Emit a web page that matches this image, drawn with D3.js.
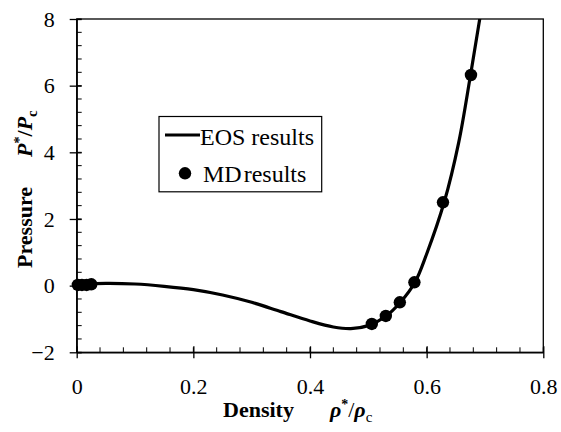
<!DOCTYPE html>
<html><head><meta charset="utf-8">
<script src="https://cdn.jsdelivr.net/npm/d3@7"></script>
<style>body{margin:0;background:#fff}svg{display:block}</style>
</head><body>
<svg id="c" width="561" height="432"></svg>
<script>
// EOS curve (density, pressure)
const eosDensity = [0, 0.02, 0.05, 0.1, 0.15, 0.2, 0.25, 0.3, 0.35, 0.4, 0.44, 0.47, 0.5, 0.53, 0.555, 0.58, 0.6, 0.63, 0.655, 0.675, 0.691, 0.70];
const eosPressure = [0, 0.05, 0.07, 0.05, -0.02, -0.12, -0.28, -0.5, -0.78, -1.06, -1.24, -1.29, -1.2, -0.92, -0.5, 0.1, 0.95, 2.5, 4.3, 6.3, 8.0, 9.1];
// MD points
const mdDensity = [0.002, 0.009, 0.017, 0.025, 0.506, 0.530, 0.554, 0.579, 0.628, 0.676];
const mdPressure = [0.02, 0.02, 0.02, 0.04, -1.15, -0.91, -0.50, 0.10, 2.50, 6.32];
const xTicks = [0, 0.2, 0.4, 0.6, 0.8];
const yTicks = [-2, 0, 2, 4, 6, 8];

const FONT = "Liberation Serif";
const svg = d3.select("#c").attr("font-family", FONT);
const L = 76.7, R = 543.3, T = 19, B = 352.3;
const x = d3.scaleLinear().domain([0, 0.8]).range([L, R]);
const y = d3.scaleLinear().domain([-2, 8]).range([B, T]);

// frame
svg.append("rect").attr("x", L).attr("y", T).attr("width", R - L).attr("height", B - T)
  .attr("fill", "none").attr("stroke", "#000").attr("stroke-width", 1.3);

// minor ticks
const xMinor = d3.range(0, 0.8001, 0.04);
const yMinor = d3.range(-2, 8.0001, 0.4);
svg.append("g").selectAll("line").data(xMinor).join("line")
  .attr("x1", d => x(d)).attr("x2", d => x(d)).attr("y1", B).attr("y2", B - 5)
  .attr("stroke", "#000").attr("stroke-width", 1);
svg.append("g").selectAll("line").data(yMinor).join("line")
  .attr("y1", d => y(d)).attr("y2", d => y(d)).attr("x1", L).attr("x2", L + 5)
  .attr("stroke", "#000").attr("stroke-width", 1);

// axes with major ticks
const xAxis = d3.axisBottom(x).tickValues(xTicks).tickFormat(d => d === 0 ? "0" : d3.format(".1f")(d)).tickSizeInner(6).tickSizeOuter(0).tickPadding(20);
const gx = svg.append("g").attr("transform", `translate(0,${B})`).call(xAxis).attr("font-family", FONT).attr("font-size", 22);
gx.select(".domain").attr("stroke-width", 1.3);
gx.selectAll(".tick line").attr("y1", -6).attr("stroke-width", 1.3);
gx.selectAll("text").attr("font-family", FONT).attr("font-size", 22).attr("fill", "#000");

const yAxis = d3.axisLeft(y).tickValues(yTicks).tickFormat(d3.format("d")).tickSizeInner(7).tickSizeOuter(0).tickPadding(15);
const gy = svg.append("g").attr("transform", `translate(${L},0)`).call(yAxis).attr("font-family", FONT).attr("font-size", 22);
gy.select(".domain").attr("stroke-width", 1.3);
gy.selectAll(".tick line").attr("x1", 5).attr("stroke-width", 1.3);
gy.selectAll("text").attr("font-family", FONT).attr("font-size", 22).attr("fill", "#000");

// clip
svg.append("clipPath").attr("id", "clip").append("rect").attr("x", L).attr("y", T).attr("width", R - L).attr("height", B - T);

const eos = eosDensity.map((d, i) => [d, eosPressure[i]]);
const line = d3.line().x(d => x(d[0])).y(d => y(d[1])).curve(d3.curveCatmullRom.alpha(0.5));
svg.append("path").attr("d", line(eos)).attr("fill", "none").attr("stroke", "#000")
  .attr("stroke-width", 3.2).attr("clip-path", "url(#clip)");

svg.append("g").selectAll("circle").data(mdDensity).join("circle")
  .attr("cx", d => x(d)).attr("cy", (d, i) => y(mdPressure[i])).attr("r", 6.2).attr("fill", "#000");

// legend
const lg = svg.append("g");
lg.append("rect").attr("x", 159).attr("y", 116.5).attr("width", 162.7).attr("height", 75.3)
  .attr("fill", "#fff").attr("stroke", "#000").attr("stroke-width", 1.2);
lg.append("line").attr("x1", 165).attr("x2", 200).attr("y1", 135).attr("y2", 135).attr("stroke", "#000").attr("stroke-width", 3.2);
lg.append("text").attr("x", 200).attr("y", 145).attr("font-family", FONT).attr("font-size", 24).text("EOS results");
lg.append("circle").attr("cx", 185).attr("cy", 173.3).attr("r", 6.2).attr("fill", "#000");
lg.append("text").attr("x", 203).attr("y", 181.7).attr("font-family", FONT).attr("font-size", 24).attr("word-spacing", -4).text("MD results");

// axis titles
const xt = svg.append("text").attr("x", 223).attr("y", 417).attr("font-family", FONT).attr("font-size", 22).attr("font-weight", "bold");
xt.append("tspan").text("Density");
xt.append("tspan").attr("dx", 36).attr("font-style", "italic").text("ρ");
xt.append("tspan").attr("font-size", 14).attr("dy", -8).text("*");
xt.append("tspan").attr("dy", 8).attr("font-weight", "normal").text("/");
xt.append("tspan").attr("font-style", "italic").text("ρ");
xt.append("tspan").attr("font-size", 15).attr("dy", 5).attr("font-weight", "normal").text("c");

const yt = svg.append("text").attr("transform", "translate(32,268) rotate(-90)").attr("font-family", FONT).attr("font-size", 22).attr("font-weight", "bold");
yt.append("tspan").text("Pressure");
yt.append("tspan").attr("dx", 30).attr("font-style", "italic").text("P");
yt.append("tspan").attr("font-size", 14).attr("dy", -8).text("*");
yt.append("tspan").attr("dy", 8).text("/");
yt.append("tspan").attr("font-style", "italic").text("P");
yt.append("tspan").attr("font-size", 15).attr("dy", 5).text("c");
</script>
</body></html>
